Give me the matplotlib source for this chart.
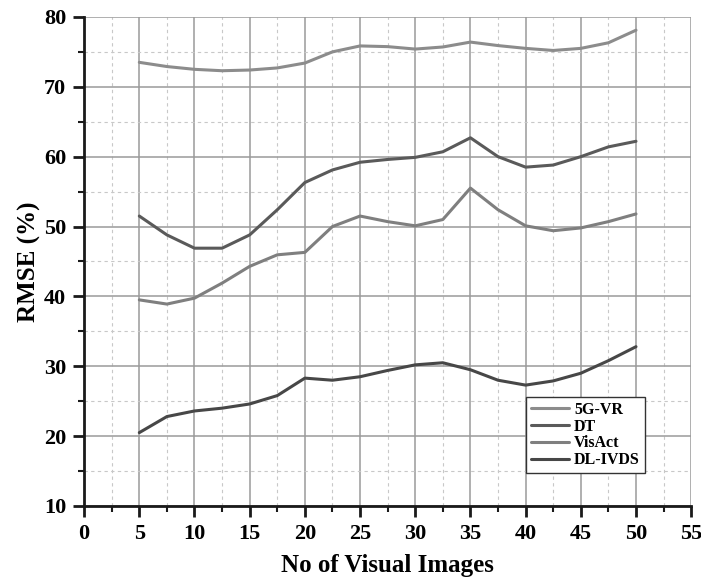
import matplotlib.pyplot as plt
from matplotlib.ticker import MultipleLocator

plt.rcParams['font.family'] = ['Liberation Serif', 'DejaVu Serif']
plt.rcParams['font.weight'] = 'bold'

# values every 2.5 images
images = [5, 7.5, 10, 12.5, 15, 17.5, 20, 22.5, 25, 27.5, 30,
          32.5, 35, 37.5, 40, 42.5, 45, 47.5, 50]
vr5g = [73.5, 72.9, 72.5, 72.3, 72.4, 72.7, 73.4, 75.0, 75.85, 75.75, 75.4,
        75.7, 76.4, 75.9, 75.5, 75.2, 75.5, 76.3, 78.1]
dt = [51.5, 48.8, 46.9, 46.9, 48.8, 52.4, 56.3, 58.1, 59.2, 59.6, 59.9,
      60.7, 62.7, 60.0, 58.5, 58.8, 60.0, 61.4, 62.2]
visact = [39.5, 38.9, 39.75, 41.9, 44.3, 45.95, 46.3, 50.0, 51.5, 50.7, 50.1,
          51.0, 55.5, 52.4, 50.1, 49.4, 49.8, 50.7, 51.8]
dlivds = [20.5, 22.8, 23.6, 24.0, 24.6, 25.8, 28.3, 28.0, 28.5, 29.4, 30.2,
          30.5, 29.5, 28.0, 27.3, 27.9, 29.0, 30.8, 32.8]

series = [('5G-VR', vr5g, '#8c8c8c'),
          ('DT', dt, '#5a5a5a'),
          ('VisAct', visact, '#7f7f7f'),
          ('DL-IVDS', dlivds, '#474747')]

fig = plt.figure(figsize=(7.01, 5.84), dpi=100)
ax = fig.add_axes([0.12, 0.1336, 0.866, 0.8374])

for name, vals, col in series:
    ax.plot(images, vals, color=col, lw=2.2, label=name, solid_capstyle='round')

ax.set_xlim(0, 55)
ax.set_ylim(10, 80)
ax.xaxis.set_major_locator(MultipleLocator(5))
ax.xaxis.set_minor_locator(MultipleLocator(2.5))
ax.yaxis.set_major_locator(MultipleLocator(10))
ax.yaxis.set_minor_locator(MultipleLocator(5))

ax.grid(which='major', color='#9a9a9a', lw=1.1, ls='-')
ax.grid(which='minor', color='#c8c8c8', lw=0.8, ls=(0, (3, 3)))
ax.set_axisbelow(True)

for s in ['top', 'right']:
    ax.spines[s].set_visible(False)
for s in ['left', 'bottom']:
    ax.spines[s].set_linewidth(2)
    ax.spines[s].set_color('#1a1a1a')

ax.tick_params(which='major', length=8, width=2, labelsize=16, color='#1a1a1a', pad=5)
ax.tick_params(which='minor', length=4, width=1.5, color='#1a1a1a')
for lab in ax.get_xticklabels() + ax.get_yticklabels():
    lab.set_fontweight('bold')

ax.set_xlabel('No of Visual Images', fontsize=18, fontweight='bold', labelpad=7)
ax.set_ylabel('RMSE (%)', fontsize=18, fontweight='bold', labelpad=2)

leg = ax.legend(loc='upper left', bbox_to_anchor=(0.728, 0.223), fancybox=False,
                framealpha=1, edgecolor='#333333', prop={'weight': 'bold', 'size': 11.5},
                handlelength=2.4, handletextpad=0.3, labelspacing=0.05,
                borderpad=0.3, borderaxespad=0)
leg.get_frame().set_linewidth(1)

fig.savefig('out.png', dpi=100)
